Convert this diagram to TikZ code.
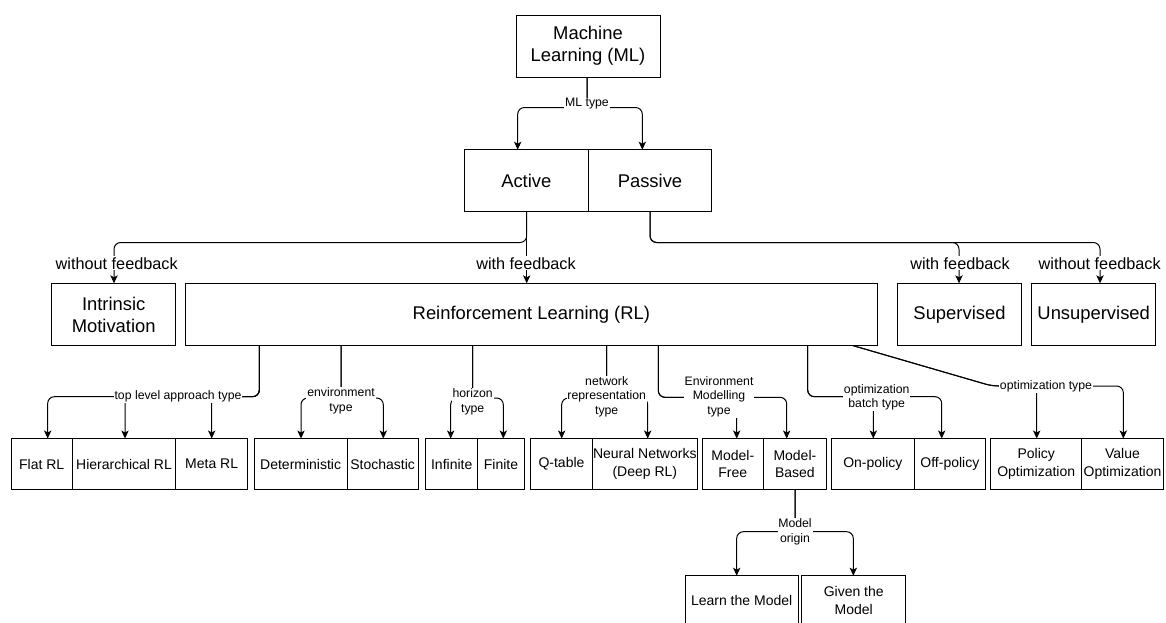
\documentclass[tikz,border=0pt]{standalone}
\usepackage{fontspec}
\setmainfont{Liberation Sans}
\usetikzlibrary{arrows.meta}
\newcommand{\bx}[6]{\node[box, minimum width={((#4)-(#2))*0.75pt}, minimum height={((#5)-(#3))*0.75pt}, #6] (#1) at ({((#2)+(#4))/2},{((#3)+(#5))/2})}
\begin{document}
\begin{tikzpicture}[x=0.75pt,y=-0.75pt,
  box/.style={draw, line width=0.75pt, inner sep=0pt, outer sep=0pt, align=center},
  big/.style={font=\fontsize{13.8}{16.6}\selectfont},
  med/.style={font=\fontsize{10.5}{13.2}\selectfont},
  lab/.style={fill=white, inner sep=0.6pt, align=center, font=\fontsize{9.2}{11}\selectfont},
  flab/.style={fill=white, inner sep=0.8pt, font=\fontsize{12.2}{14}\selectfont},
  arr/.style={line width=0.75pt, -{Stealth[length=6pt,width=5.5pt,inset=1.5pt]}, rounded corners=5pt}]
\path[use as bounding box, clip] (0,0) rectangle (1166,622);

% ---------- boxes ----------
\bx{ml}{516}{15}{660}{77}{big}{Machine\\Learning (ML)};
\bx{act}{464.3}{149.7}{588.3}{211.3}{big}{Active};
\bx{pas}{588.3}{149.7}{711.7}{211.3}{big}{Passive};
\bx{im}{51.7}{283.3}{175.7}{345.7}{big}{Intrinsic\\Motivation};
\bx{rl}{185.7}{283.3}{877}{345.7}{big}{Reinforcement Learning (RL)};
\bx{sup}{897.3}{283.3}{1021.7}{345.7}{big}{Supervised};
\bx{uns}{1031.7}{283.3}{1155.7}{345.7}{big}{Unsupervised};

\bx{flat}{11}{438.5}{72.3}{489.5}{med}{Flat RL};
\bx{hier}{72.3}{438.5}{175.7}{489.5}{med}{Hierarchical RL};
\bx{meta}{175.7}{438.5}{247.7}{489.5}{med}{Meta RL};
\bx{det}{254.3}{438.5}{347}{489.5}{med}{Deterministic};
\bx{sto}{347}{438.5}{418.3}{489.5}{med}{Stochastic};
\bx{inf}{425.7}{438.5}{477.7}{489.5}{med}{Infinite};
\bx{fin}{477.7}{438.5}{524.3}{489.5}{med}{Finite};
\bx{qt}{530.7}{438.5}{592.3}{489.5}{med}{Q-table};
\bx{nn}{592.3}{438.5}{697.3}{489.5}{med}{Neural Networks\\(Deep RL)};
\bx{mf}{702.3}{438.5}{763.3}{489.5}{med}{Model-\\Free};
\bx{mb}{763.3}{438.5}{826.5}{489.5}{med}{Model-\\Based};
\bx{on}{831.7}{438.5}{914}{489.5}{med}{On-policy};
\bx{off}{914}{438.5}{985.7}{489.5}{med}{Off-policy};
\bx{po}{990.7}{438.5}{1081.7}{489.5}{med}{Policy\\Optimization};
\bx{vo}{1081.7}{438.5}{1163.3}{489.5}{med}{Value\\Optimization};
\bx{learn}{685}{575.7}{798.3}{625.7}{med}{Learn the Model};
\bx{given}{801.7}{575.7}{905.7}{625.7}{med}{Given the\\Model};

% ---------- connectors ----------
\draw[arr] (ml.south -| 587,0) -- (587,107.5) -- (517.7,107.5) -- (act.north -| 517.7,0);
\draw[arr] (ml.south -| 587,0) -- (587,107.5) -- (642.3,107.5) -- (pas.north -| 642.3,0);

\draw[arr] (act.south -| 526.7,0) -- (526.7,242.5) -- (114,242.5) -- (im.north -| 114,0);
\draw[arr] (act.south -| 526.7,0) -- (rl.north -| 526.7,0);
\draw[arr] (pas.south -| 650,0) -- (650,242.5) -- (959,242.5) -- (sup.north -| 959,0);
\draw[arr] (pas.south -| 650,0) -- (650,242.5) -- (1100,242.5) -- (uns.north -| 1100,0);

\draw[arr] (rl.south -| 259.3,0) -- (259.3,396.7) -- (47.7,396.7) -- (flat.north -| 47.7,0);
\draw[arr] (rl.south -| 259.3,0) -- (259.3,396.7) -- (125,396.7) -- (hier.north -| 125,0);
\draw[arr] (rl.south -| 259.3,0) -- (259.3,396.7) -- (211.7,396.7) -- (meta.north -| 211.7,0);

\draw[arr] (rl.south -| 341,0) -- (341,398) -- (301,398) -- (det.north -| 301,0);
\draw[arr] (rl.south -| 341,0) -- (341,398) -- (383.3,398) -- (sto.north -| 383.3,0);

\draw[arr] (rl.south -| 472.7,0) -- (472.7,398) -- (450.7,398) -- (inf.north -| 450.7,0);
\draw[arr] (rl.south -| 472.7,0) -- (472.7,398) -- (503.3,398) -- (fin.north -| 503.3,0);

\draw[arr] (rl.south -| 606.7,0) -- (606.7,398) -- (561.7,398) -- (qt.north -| 561.7,0);
\draw[arr] (rl.south -| 606.7,0) -- (606.7,398) -- (647.7,398) -- (nn.north -| 647.7,0);

\draw[arr] (rl.south -| 658.3,0) -- (658.3,397.3) -- (736.7,397.3) -- (mf.north -| 736.7,0);
\draw[arr] (rl.south -| 658.3,0) -- (658.3,397.3) -- (786.7,397.3) -- (mb.north -| 786.7,0);

\draw[arr] (rl.south -| 807.7,0) -- (807.7,396.7) -- (873.3,396.7) -- (on.north -| 873.3,0);
\draw[arr] (rl.south -| 807.7,0) -- (807.7,396.7) -- (941.7,396.7) -- (off.north -| 941.7,0);

\draw[arr] (rl.south -| 853.3,0) -- (992,386) -- (1036.7,386) -- (po.north -| 1036.7,0);
\draw[arr] (rl.south -| 853.3,0) -- (992,386) -- (1123.3,386) -- (vo.north -| 1123.3,0);

\draw[arr] (mb.south -| 795,0) -- (795,531.7) -- (736.7,531.7) -- (learn.north -| 736.7,0);
\draw[arr] (mb.south -| 795,0) -- (795,531.7) -- (853.3,531.7) -- (given.north -| 853.3,0);

% ---------- edge labels ----------
\node[lab] (lml) at (587,104) {ML type};
\node[flab] (lwo1) at (116.7,263.3) {without feedback};
\node[flab] (lw1) at (526,263.3) {with feedback};
\node[flab] (lw2) at (960,263.3) {with feedback};
\node[flab] (lwo2) at (1099.7,263.3) {without feedback};
\node[lab] (ltop) at (178,396.7) {top level approach type};
\node[lab] (lenv) at (341,400.8) {environment\\type};
\node[lab] (lhor) at (472.7,401.5) {horizon\\type};
\node[lab] (lnet) at (606.7,396.7) {network\\representation\\type};
\node[lab] (lem) at (719,396.7) {Environment\\Modelling\\type};
\node[lab] (lbatch) at (876.7,397.3) {optimization\\batch type};
\node[lab] (lopt) at (1046,386) {optimization type};
\node[lab] (lorig) at (795,531.7) {Model\\origin};
\end{tikzpicture}
\end{document}
